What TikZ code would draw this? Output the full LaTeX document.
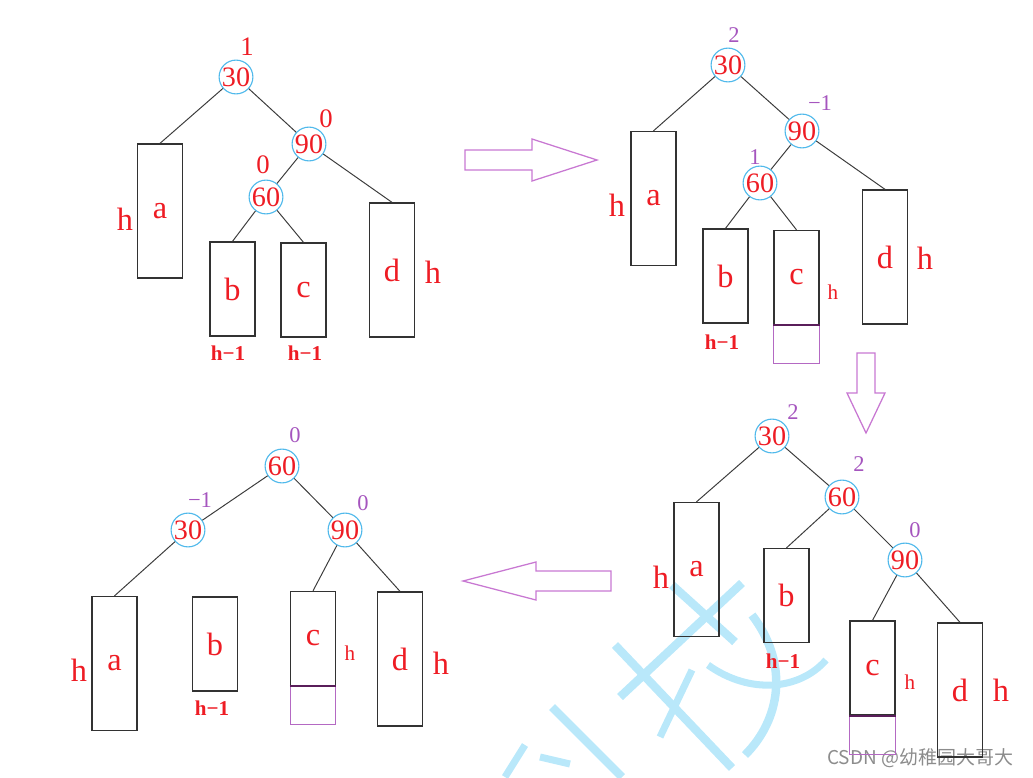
\documentclass[tikz,border=0pt]{standalone}
\usepackage{fontspec}
\setmainfont{Liberation Serif}
\newfontfamily\cjk{Noto Sans CJK SC}
\usepackage{tikz}
\usetikzlibrary{positioning}
\definecolor{keyred}{RGB}{238,28,36}
\definecolor{bfviolet}{RGB}{165,85,190}
\definecolor{ringblue}{RGB}{80,185,235}
\definecolor{boxgray}{RGB}{50,50,50}
\definecolor{edgegray}{RGB}{60,60,60}
\definecolor{arrowpink}{RGB}{200,120,210}
\definecolor{addpurple}{RGB}{180,105,195}
\definecolor{seampurple}{RGB}{90,30,90}
\definecolor{wmblue}{RGB}{185,232,250}
\definecolor{wmgray}{RGB}{140,140,140}
\tikzstyle{keynode} = [circle, draw=ringblue, line width=0.8pt, minimum size=0.8cm, inner sep=0pt, text=keyred, font=\fontsize{20}{20}\selectfont]
\tikzstyle{tallbox} = [rectangle, draw=boxgray, line width=0.9pt, minimum width=1.13cm, minimum height=3.35cm, inner sep=0pt, text=keyred, font=\fontsize{23}{23}\selectfont]
\tikzstyle{shortbox} = [tallbox, minimum height=2.35cm]
\tikzstyle{addbox} = [rectangle, draw=addpurple, line width=0.8pt, minimum width=1.13cm, minimum height=0.95cm, inner sep=0pt]
\tikzstyle{seam} = [draw=seampurple, line width=1.4pt]
\tikzstyle{bfred} = [text=keyred, font=\fontsize{19}{19}\selectfont, inner sep=0pt]
\tikzstyle{bfviolet} = [text=bfviolet, font=\fontsize{16}{16}\selectfont, inner sep=0pt]
\tikzstyle{hbig} = [text=keyred, font=\fontsize{23}{23}\selectfont, inner sep=0pt]
\tikzstyle{hsmall} = [text=keyred, font=\fontsize{15}{15}\selectfont, inner sep=0pt]
\tikzstyle{hless} = [text=keyred, font=\bfseries\fontsize{15}{15}\selectfont, inner sep=0pt]
\tikzstyle{link} = [draw=edgegray, line width=0.7pt]
\tikzstyle{flowarrow} = [draw=arrowpink, line width=0.9pt, line join=miter]
\tikzstyle{wm} = [draw=wmblue, line width=6pt]

\begin{document}
\begin{tikzpicture}[x=0.025cm, y=-0.025cm]
	\useasboundingbox (0,0) rectangle (1033,777);

	% watermark
	\draw[wm] (672,585) -- (735,642);
	\draw[wm] (742,583) -- (620,697);
	\draw[wm] (615,645) -- (732,768);
	\draw[wm] (752,615) .. controls (790,665) and (780,720) .. (745,755);
	\draw[wm, line width=5pt] (708,665) .. controls (750,695) and (800,690) .. (826,660);
	\draw[wm, line width=5pt] (692,670) -- (660,737);
	\draw[wm] (552,707) -- (622,777);
	\draw[wm, line width=5pt] (505,777) -- (525,745);
	\draw[wm, line width=5pt] (540,757) -- (570,764);
	\node[font=\cjk\fontsize{13.5}{13.5}\selectfont, text=wmgray, anchor=west, inner sep=0pt] (csdn) at (827,758) {CSDN @幼稚园大哥大};

	% step 1
	\node[keynode] (p1_30) at (236,77) {30};
	\node[keynode] (p1_90) at (309,144) {90};
	\node[keynode] (p1_60) at (266,197) {60};
	\node[tallbox] (p1_a) at (160,211) {a};
	\node[shortbox] (p1_b) at (232.5,289) {b};
	\node[shortbox] (p1_c) at (303.5,290) {c};
	\node[tallbox] (p1_d) at (392,270) {d};
	\node[bfred] (p1_bf30) at (247,47) {1};
	\node[bfred] (p1_bf90) at (326,119) {0};
	\node[bfred] (p1_bf60) at (263,165) {0};
	\node[hbig] (p1_ha) at (125,219) {h};
	\node[hbig] (p1_hd) at (433,272) {h};
	\node[hless] (p1_hb) at (228,353) {h−1};
	\node[hless] (p1_hc) at (305,353) {h−1};
	\draw[link] (p1_30) -- (p1_a.north);
	\draw[link] (p1_30) -- (p1_90);
	\draw[link] (p1_90) -- (p1_60);
	\draw[link] (p1_90) -- (p1_d.north);
	\draw[link] (p1_60) -- (p1_b.north);
	\draw[link] (p1_60) -- (p1_c.north);

	% step 2
	\node[keynode] (p2_30) at (728,65) {30};
	\node[keynode] (p2_90) at (802,131) {90};
	\node[keynode] (p2_60) at (760,183) {60};
	\node[tallbox] (p2_a) at (653.5,198.5) {a};
	\node[shortbox] (p2_b) at (725.5,276) {b};
	\node[shortbox] (p2_c) at (796.5,277.5) {c};
	\node[addbox, below=0pt of p2_c] (p2_cx) {};
	\node[tallbox] (p2_d) at (885,257) {d};
	\node[bfviolet] (p2_bf30) at (734,35) {2};
	\node[bfviolet] (p2_bf90) at (820,103) {−1};
	\node[bfviolet] (p2_bf60) at (755,157) {1};
	\node[hbig] (p2_ha) at (617,205) {h};
	\node[hsmall] (p2_hc) at (833,292) {h};
	\node[hbig] (p2_hd) at (925,258) {h};
	\node[hless] (p2_hb) at (722,342) {h−1};
	\draw[seam] (p2_c.south west) -- (p2_c.south east);
	\draw[link] (p2_30) -- (p2_a.north);
	\draw[link] (p2_30) -- (p2_90);
	\draw[link] (p2_90) -- (p2_60);
	\draw[link] (p2_90) -- (p2_d.north);
	\draw[link] (p2_60) -- (p2_b.north);
	\draw[link] (p2_60) -- (p2_c.north);

	% step 3
	\node[keynode] (p3_30) at (772,436) {30};
	\node[keynode] (p3_60) at (842,497) {60};
	\node[keynode] (p3_90) at (905,560) {90};
	\node[tallbox] (p3_a) at (696.5,569.5) {a};
	\node[shortbox] (p3_b) at (786.5,595.5) {b};
	\node[shortbox] (p3_c) at (872.5,668) {c};
	\node[addbox, below=0pt of p3_c] (p3_cx) {};
	\node[tallbox] (p3_d) at (960,690) {d};
	\node[bfviolet] (p3_bf30) at (793,412) {2};
	\node[bfviolet] (p3_bf60) at (859,464) {2};
	\node[bfviolet] (p3_bf90) at (915,530) {0};
	\node[hbig] (p3_ha) at (661,577) {h};
	\node[hsmall] (p3_hc) at (910,682) {h};
	\node[hbig] (p3_hd) at (1001,690) {h};
	\node[hless] (p3_hb) at (783,661) {h−1};
	\draw[seam] (p3_c.south west) -- (p3_c.south east);
	\draw[link] (p3_30) -- (p3_a.north);
	\draw[link] (p3_30) -- (p3_60);
	\draw[link] (p3_60) -- (p3_b.north);
	\draw[link] (p3_60) -- (p3_90);
	\draw[link] (p3_90) -- (p3_c.north);
	\draw[link] (p3_90) -- (p3_d.north);

	% step 4
	\node[keynode] (p4_60) at (282,466) {60};
	\node[keynode] (p4_30) at (188,530) {30};
	\node[keynode] (p4_90) at (345,530) {90};
	\node[tallbox] (p4_a) at (114.5,663.5) {a};
	\node[shortbox] (p4_b) at (215,644) {b};
	\node[shortbox] (p4_c) at (313,638.5) {c};
	\node[addbox, below=0pt of p4_c] (p4_cx) {};
	\node[tallbox] (p4_d) at (400,659) {d};
	\node[bfviolet] (p4_bf60) at (295,435) {0};
	\node[bfviolet] (p4_bf30) at (200,500) {−1};
	\node[bfviolet] (p4_bf90) at (363,503) {0};
	\node[hbig] (p4_ha) at (79,670) {h};
	\node[hsmall] (p4_hc) at (350,653) {h};
	\node[hbig] (p4_hd) at (441,663) {h};
	\node[hless] (p4_hb) at (212,708) {h−1};
	\draw[seam] (p4_c.south west) -- (p4_c.south east);
	\draw[link] (p4_60) -- (p4_30);
	\draw[link] (p4_60) -- (p4_90);
	\draw[link] (p4_30) -- (p4_a.north);
	\draw[link] (p4_90) -- (p4_c.north);
	\draw[link] (p4_90) -- (p4_d.north);

	% hollow arrows between steps
	\draw[flowarrow] (465,150) -- (532,150) -- (532,139) -- (597,160) -- (532,181) -- (532,170) -- (465,170) -- cycle;
	\draw[flowarrow] (857,353) -- (875,353) -- (875,393) -- (885,393) -- (866,433) -- (847,393) -- (857,393) -- cycle;
	\draw[flowarrow] (611,571) -- (536,571) -- (536,562) -- (463,581) -- (536,600) -- (536,591) -- (611,591) -- cycle;
\end{tikzpicture}
\end{document}
